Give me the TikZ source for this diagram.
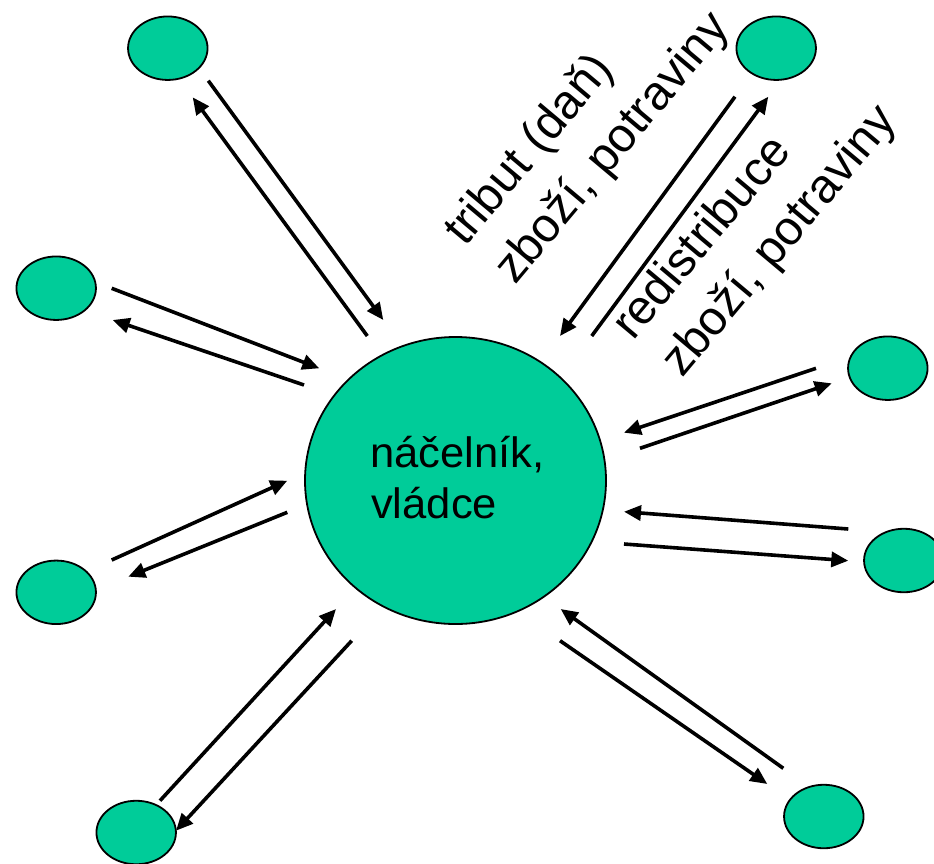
\documentclass[tikz,border=0pt]{standalone}
\usepackage{fontspec}
\setmainfont{Liberation Sans}
\usetikzlibrary{arrows.meta,shapes.geometric}
\definecolor{tealfill}{RGB}{0,204,153}
\begin{document}
\begin{tikzpicture}[x=1pt,y=-1pt,
  smallnode/.style={ellipse,draw=black,line width=1.8pt,fill=tealfill,minimum width=79.5pt,minimum height=63.5pt,inner sep=0pt},
  bignode/.style={ellipse,draw=black,line width=1.8pt,fill=tealfill,minimum width=301pt,minimum height=287pt,inner sep=0pt},
  flow/.style={line width=3.6pt,-{Triangle[length=17pt,width=15pt]}},
  centertext/.style={anchor=base west,inner sep=0pt,font=\fontsize{42.5pt}{50pt}\selectfont},
  labeltext/.style={anchor=base west,inner sep=0pt,rotate=50,font=\fontsize{48pt}{58pt}\selectfont}]
\useasboundingbox (0,0) rectangle (934,863);
\clip (0,0) rectangle (934,863);
% nodes
\node[bignode] (c) at (455.5,480.5) {};
\node[smallnode] (e1) at (167.8,48.2) {};
\node[smallnode] (e2) at (776.2,48.2) {};
\node[smallnode] (e3) at (56.2,288.2) {};
\node[smallnode] (e4) at (887.8,368.2) {};
\node[smallnode] (e5) at (56.2,592.3) {};
\node[smallnode] (e6) at (903.8,560.5) {};
\node[smallnode] (e7) at (136.2,832.5) {};
\node[smallnode] (e8) at (823.8,816.5) {};
% centre text
\node[centertext] (t1) at (370,467) {\scalebox{1.025}[1]{náčelník,}};
\node[centertext] (t2) at (371,518) {\scalebox{1.025}[1]{vládce}};
% rotated labels
\node[labeltext] (l1) at (465,248) {tribut (daň)};
\node[labeltext] (l2) at (515,286) {zboží, potraviny};
\node[labeltext] (l3) at (633,342) {redistribuce};
\node[labeltext] (l4) at (682,379) {zboží, potraviny};
% arrow end points
\coordinate (a1s) at (208.3,80.7);  \coordinate (a1e) at (383.3,320);
\coordinate (b1s) at (367.3,336);   \coordinate (b1e) at (192.7,97.3);
\coordinate (a2s) at (735,96.7);    \coordinate (a2e) at (560,336);
\coordinate (b2s) at (591.7,336);   \coordinate (b2e) at (768.3,96.7);
\coordinate (a3s) at (111.7,288.3); \coordinate (a3e) at (319.3,368.3);
\coordinate (b3s) at (304,385);     \coordinate (b3e) at (112.7,320);
\coordinate (a4s) at (816,368.3);   \coordinate (a4e) at (624,432.7);
\coordinate (b4s) at (640,448.3);   \coordinate (b4e) at (831.7,383.3);
\coordinate (a5s) at (111.7,560);   \coordinate (a5e) at (287.3,480.7);
\coordinate (b5s) at (287.3,512.3); \coordinate (b5e) at (128.3,576.7);
\coordinate (a6s) at (848.3,529);   \coordinate (a6e) at (624,511.7);
\coordinate (b6s) at (624,544);     \coordinate (b6e) at (848.3,560.7);
\coordinate (a7s) at (160,800.7);   \coordinate (a7e) at (336,609);
\coordinate (b7s) at (351.7,640.7); \coordinate (b7e) at (176,830.7);
\coordinate (a8s) at (783.3,768.3); \coordinate (a8e) at (560.7,609);
\coordinate (b8s) at (560,640.7);   \coordinate (b8e) at (767.3,784);
% arrows
\foreach \i in {1,...,8}{
  \draw[flow] (a\i s) -- (a\i e);
  \draw[flow] (b\i s) -- (b\i e);
}
\end{tikzpicture}
\end{document}
